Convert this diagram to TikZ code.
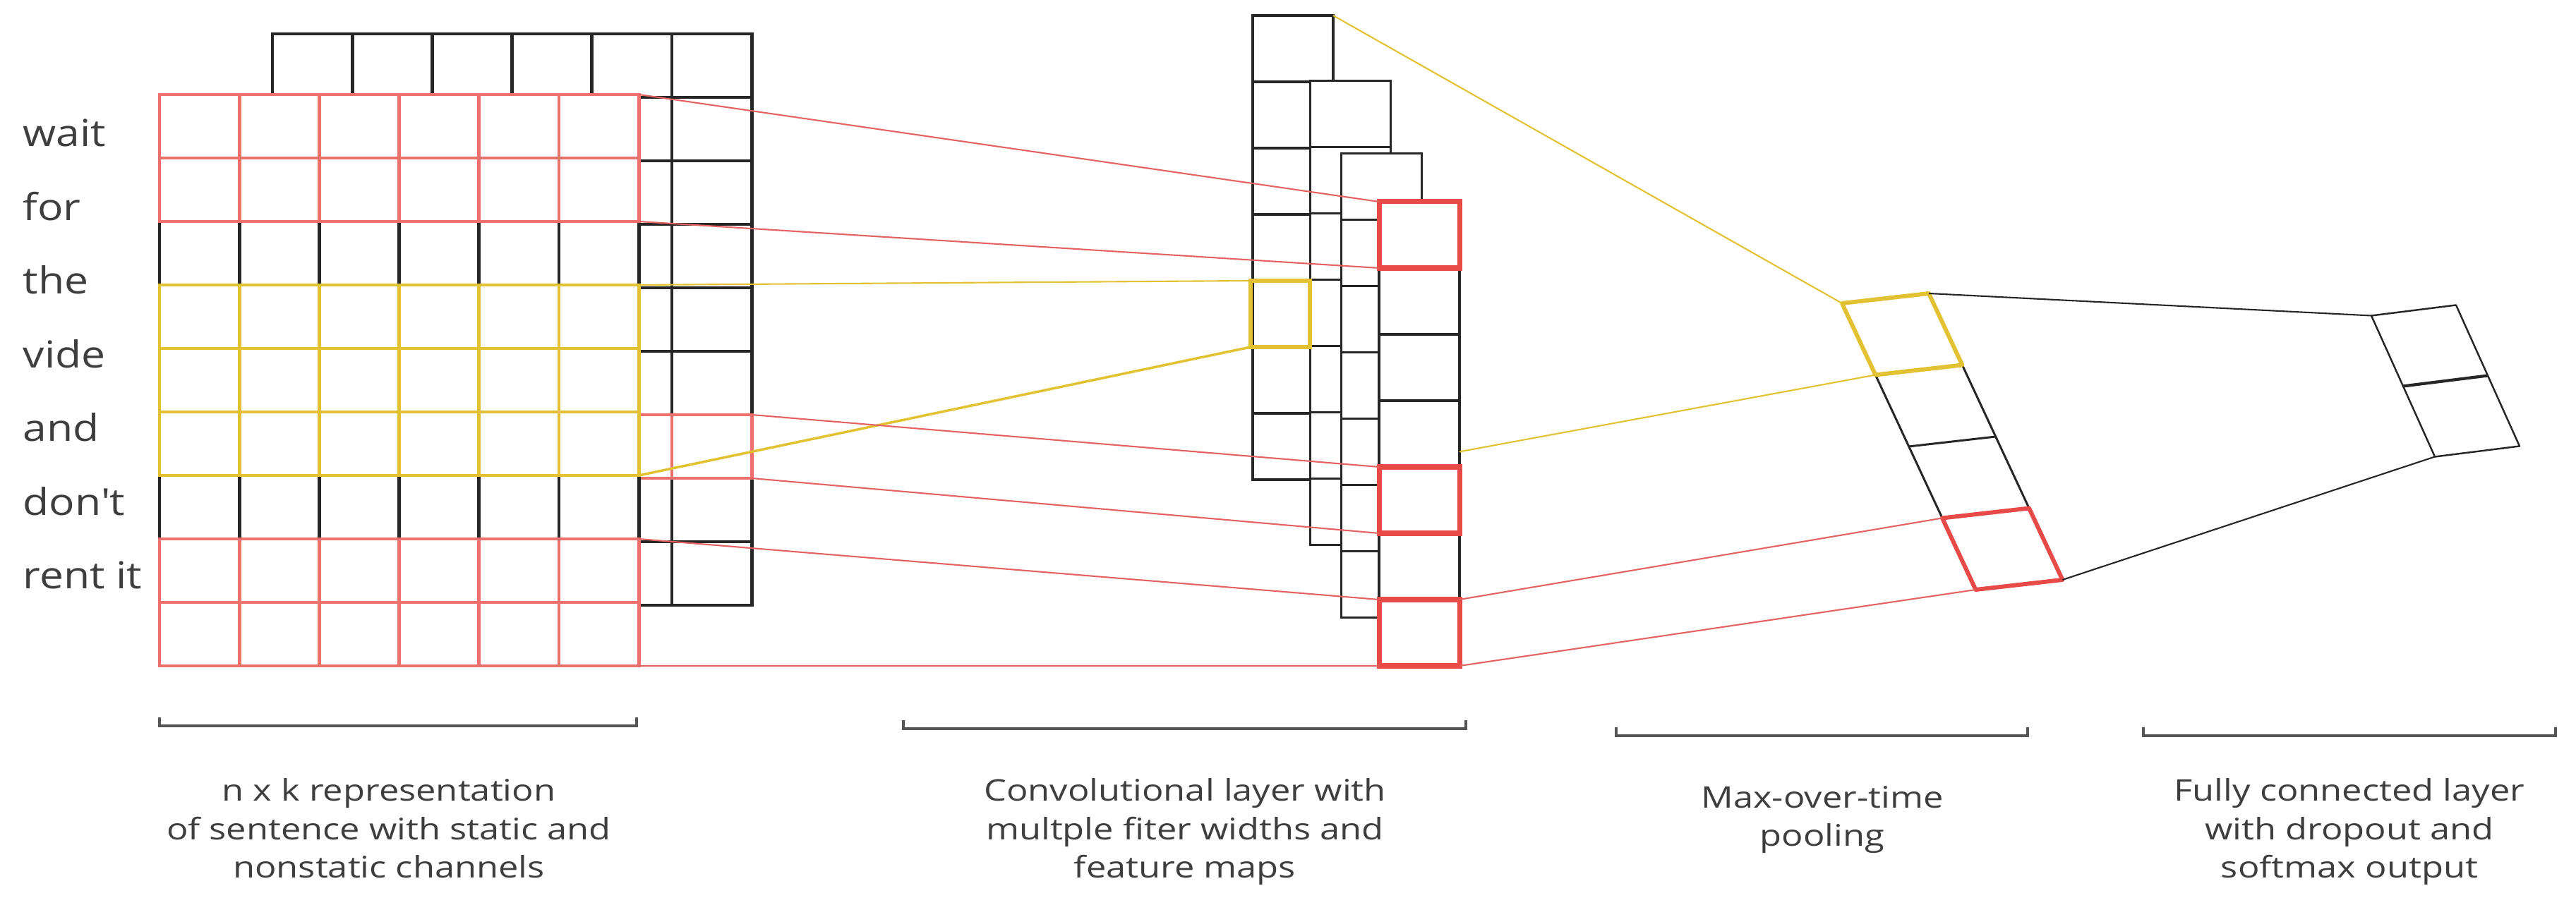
\documentclass[tikz,border=0pt]{standalone}
\usepackage{fontspec}
\setmainfont{Open Sans}
\newfontfamily\wordfont{Open Sans}[FakeStretch=1.15]
\newfontfamily\capfont{Open Sans}[FakeStretch=1.2]
\usetikzlibrary{arrows.meta,positioning,calc}
\definecolor{ink}{RGB}{38,38,38}
\definecolor{txt}{RGB}{62,62,62}
\definecolor{matred}{RGB}{236,112,108}
\definecolor{convred}{RGB}{232,74,72}
\definecolor{linkred}{RGB}{228,98,98}
\definecolor{yel}{RGB}{226,194,50}
\definecolor{brk}{RGB}{85,85,85}

\begin{document}
\begin{tikzpicture}[x=1cm,y=-1cm,
    grid/.style={line width=1.4pt, draw=ink},
    fmap/.style={draw=ink, fill=white, minimum width=1.14cm, minimum height=0.94cm, inner sep=0pt, outer sep=0pt},
    redlink/.style={linkred, line width=0.6pt},
    yellink/.style={yel, line width=0.6pt},
    blacklink/.style={ink, line width=0.6pt},
    pool/.style={ink, line width=0.85pt, line join=round},
    bracket/.style={brk, line width=0.9pt},
    word/.style={anchor=base west, inner sep=0pt, text=txt, font=\wordfont\fontsize{15}{18}\selectfont},
    lbltext/.style={anchor=base, align=center, inner sep=0pt, text=txt, font=\capfont\fontsize{12}{15.6}\selectfont}]
    \useasboundingbox (0,0) rectangle (36.5,12.83);

    % static channel (back)
    \foreach \i in {0,...,5}
      \foreach \j in {0,...,8}
        \draw[grid, fill=white] (3.86+\i*1.132,0.48+\j*0.9) rectangle ++(1.132,0.9);
    \node[draw=matred, line width=1.4pt, minimum width=1.6cm, minimum height=0.9cm, inner sep=0pt, outer sep=0pt] (bred) at (9.852,6.33) {};
    \draw[matred, line width=1.4pt] (9.52,5.88) -- (9.52,6.78);

    % nonstatic channel (front)
    \fill[white] (2.26,1.34) rectangle (9.052,9.44);
    \foreach \i in {0,...,5}
      \foreach \j in {0,...,8}
        \draw[grid] (2.26+\i*1.132,1.34+\j*0.9) rectangle ++(1.132,0.9);
    \foreach \j/\c in {0/matred,1/matred,3/yel,4/yel,5/yel,7/matred,8/matred}
      \foreach \i in {0,...,5}
        \draw[grid, draw=\c] (2.26+\i*1.132,1.34+\j*0.9) rectangle ++(1.132,0.9);
    \coordinate (f0) at (9.052,1.34);
    \coordinate (f2) at (9.052,3.14);
    \coordinate (f3) at (9.052,4.04);
    \coordinate (f6) at (9.052,6.74);
    \coordinate (f7) at (9.052,7.64);
    \coordinate (f9) at (9.052,9.44);

    % words
    \foreach \w [count=\k from 0] in {wait,for,the,vide,and,don\textquotesingle t,rent it}
      \node[word] (w\k) at (0.32,2.08+\k*1.045) {\w};

    % feature maps
    \foreach \c/\x/\y/\lw in {1/17.75/0.22/1.4pt, 2/18.56/1.15/0.85pt, 3/19.00/2.18/0.85pt, 4/19.54/2.86/1.4pt}
      \foreach \k in {1,...,7}
        \node[fmap, line width=\lw] (c\c-\k) at (\x+0.57,\y+\k*0.94-0.47) {};
    \node[fmap, draw=yel, fill=none, line width=1.7pt, minimum width=0.84cm] (ybox) at (18.14,4.45) {};
    \foreach \k in {1,5,7}
      \draw[convred, line width=2pt] (c4-\k.north west) rectangle (c4-\k.south east);

    % filters
    \draw[redlink] (f0) -- (c4-1.north west);
    \draw[redlink] (f2) -- (c4-1.south west);
    \draw[yellink] (f3) -- (ybox.north west);
    \draw[yellink, line width=1pt] (f6) -- (ybox.south west);
    \draw[redlink] (bred.north east) -- (c4-5.north west);
    \draw[redlink] (bred.south east) -- (c4-5.south west);
    \draw[redlink] (f7) -- (c4-7.north west);
    \draw[redlink] (f9) -- (c4-7.south west);

    % max pooling
    \foreach \k in {0,...,4} {
      \coordinate (pl\k) at ($(26.10,4.30)+\k*(0.4735,1.015)$);
      \coordinate (pr\k) at ($(pl\k)+(1.23,-0.14)$);
    }
    \draw[pool] (pl0) -- (pl4) -- (pr4) -- (pr0) -- cycle;
    \draw[pool] (pl1) -- (pr1) (pl2) -- (pr2);
    \draw[yel, line width=1.7pt, line join=round] (pl0) -- (pr0) -- (pr1) -- (pl1) -- cycle;
    \draw[convred, line width=1.7pt, line join=round] (pl3) -- (pr3) -- (pr4) -- (pl4) -- cycle;

    % fully connected
    \foreach \k in {0,...,2} {
      \coordinate (fl\k) at ($(33.60,4.475)+\k*(0.45,1.0)$);
      \coordinate (fr\k) at ($(fl\k)+(1.20,-0.15)$);
    }
    \draw[ink, line width=0.7pt, line join=round] (fl0) -- (fl2) -- (fr2) -- (fr0) -- cycle;
    \draw[ink, line width=1.2pt] (fl1) -- (fr1);

    % pooling links
    \coordinate (c4y) at ($(c4-4.north east)!0.77!(c4-4.south east)$);
    \draw[yellink] (c1-1.north east) -- (pl0);
    \draw[yellink] (c4y) -- (pl1);
    \draw[redlink] (c4-7.north east) -- (pl3);
    \draw[redlink] (c4-7.south east) -- (pl4);
    \draw[blacklink] (pr0) -- (fl0);
    \draw[blacklink] (pr4) -- (fl2);

    % brackets and captions
    \draw[bracket] (2.26,10.17) |- (9.02,10.29) -- (9.02,10.17);
    \draw[bracket] (12.80,10.21) |- (20.77,10.33) -- (20.77,10.21);
    \draw[bracket] (22.90,10.31) |- (28.73,10.43) -- (28.73,10.31);
    \draw[bracket] (30.37,10.31) |- (36.21,10.43) -- (36.21,10.31);
    \node[lbltext] (cap1) at (5.51,12.45) {n x k representation\\of sentence with static and\\nonstatic channels};
    \node[lbltext] (cap2) at (16.79,12.45) {Convolutional layer with\\multple fiter widths and\\feature maps};
    \node[lbltext] (cap3) at (25.82,12.00) {Max-over-time\\pooling};
    \node[lbltext] (cap4) at (33.29,12.45) {Fully connected layer\\with dropout and\\softmax output};
\end{tikzpicture}
\end{document}
